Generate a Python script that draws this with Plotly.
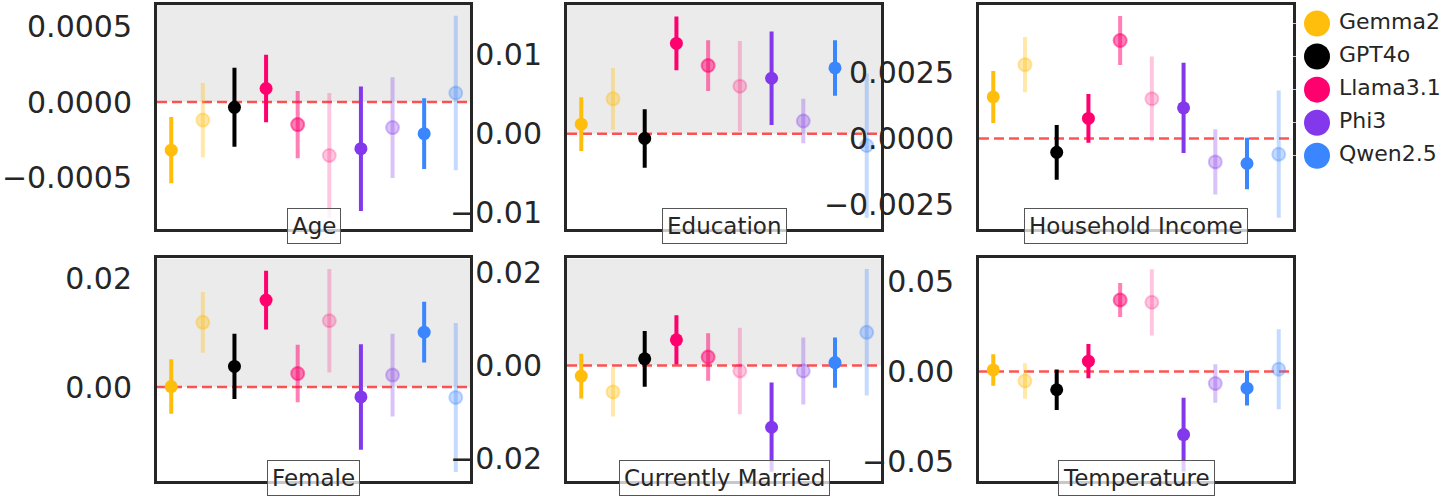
import plotly.graph_objects as go

# порядок точек внутри каждой панели
models = ['Gemma2', 'Gemma2', 'GPT4o', 'Llama3.1', 'Llama3.1', 'Llama3.1',
          'Phi3', 'Phi3', 'Qwen2.5', 'Qwen2.5']
legend_models = ['Gemma2', 'GPT4o', 'Llama3.1', 'Phi3', 'Qwen2.5']
panels = ['Age', 'Education', 'Household Income',
          'Female', 'Currently Married', 'Temperature']

# оценки и полуширина интервалов
age = [-0.00032, -0.00012, -0.000035, 0.00009, -0.00015, -0.000355, -0.00031, -0.00017, -0.00021, 0.00006]
age_err = [0.00022, 0.000247, 0.000263, 0.000225, 0.000224, 0.000415, 0.000414, 0.000335, 0.000235, 0.000513]

education = [0.0012, 0.0044, -0.0006, 0.0114, 0.0086, 0.006, 0.007, 0.0016, 0.0083, -0.0015]
education_err = [0.0034, 0.0039, 0.0037, 0.0034, 0.0032, 0.0057, 0.0059, 0.0028, 0.0035, 0.0091]

income = [0.00157, 0.00279, -0.00052, 0.00076, 0.0037, 0.0015, 0.00116, -0.00088, -0.00094, -0.00059]
income_err = [0.00098, 0.00104, 0.00103, 0.00092, 0.00092, 0.0016, 0.0017, 0.00123, 0.00097, 0.0024]

female = [0.0001, 0.0119, 0.0038, 0.016, 0.0025, 0.0122, -0.0018, 0.0022, 0.0101, -0.0019]
female_err = [0.005, 0.0056, 0.006, 0.0054, 0.0053, 0.0095, 0.0097, 0.0076, 0.0056, 0.0137]

married = [-0.0023, -0.0057, 0.0014, 0.0055, 0.0018, -0.0012, -0.0133, -0.0012, 0.0006, 0.0071]
married_err = [0.0048, 0.0053, 0.006, 0.0053, 0.0051, 0.0093, 0.0096, 0.0072, 0.0054, 0.0136]

temperature = [0.0009, -0.0052, -0.0101, 0.0058, 0.0398, 0.0385, -0.035, -0.0066, -0.0092, 0.0013]
temperature_err = [0.0087, 0.0099, 0.0112, 0.0095, 0.0094, 0.0184, 0.0205, 0.0107, 0.0096, 0.0222]

values = [age, education, income, female, married, temperature]
errors = [age_err, education_err, income_err, female_err, married_err, temperature_err]

# оси Y
y_ranges = [[-0.000842, 0.000645], [-0.012, 0.01625], [-0.0034, 0.00504],
            [-0.0173, 0.02366], [-0.0249, 0.023], [-0.0609, 0.0629]]
y_ticks = [[-0.0005, 0, 0.0005], [-0.01, 0, 0.01], [-0.0025, 0, 0.0025],
           [-0.02, 0, 0.02], [-0.02, 0, 0.02], [-0.05, 0, 0.05]]
y_formats = ['.4f', '.2f', '.4f', '.2f', '.2f', '.2f']
shaded = [True, True, False, True, True, False]

colors = {'Gemma2': (255, 190, 11), 'GPT4o': (0, 0, 0), 'Llama3.1': (255, 0, 110),
          'Phi3': (131, 56, 236), 'Qwen2.5': (58, 134, 255)}
alphas = [1, 0.35, 1, 1, 0.5, 0.22, 1, 0.3, 1, 0.3]

W, H = 1446, 500
col_px = [(157, 470), (567, 881), (979, 1293)]
row_px = [(2, 228), (258, 483)]


def rgba(c, a):
    return f'rgba({c[0]},{c[1]},{c[2]},{a})'


fig = go.Figure()
ink = '#262626'

for i, name in enumerate(panels):
    r, c = divmod(i, 3)
    ax = '' if i == 0 else str(i + 1)
    x0, x1 = col_px[c]
    y0, y1 = row_px[r]
    xd = [x0 / W, x1 / W]
    yd = [1 - y1 / H, 1 - y0 / H]

    for j in range(len(models)):
        col = colors[models[j]]
        a = alphas[j]
        fig.add_trace(go.Scatter(
            x=[j], y=[values[i][j]],
            error_y=dict(type='data', array=[errors[i][j]], color=rgba(col, a),
                         thickness=4, width=0),
            mode='markers',
            marker=dict(size=13, color=rgba(col, a),
                        line=dict(width=0 if a == 1 else 2, color=rgba(col, a))),
            xaxis='x' + ax, yaxis='y' + ax,
            showlegend=False, hoverinfo='skip'
        ))

    fig.layout['xaxis' + ax] = dict(
        domain=xd, range=[-0.45, 9.45], showticklabels=False, ticks='',
        showgrid=False, zeroline=False, showline=True, linewidth=3,
        linecolor=ink, mirror=True, anchor='y' + ax)
    fig.layout['yaxis' + ax] = dict(
        domain=yd, range=y_ranges[i], tickvals=y_ticks[i], tickformat=y_formats[i],
        ticks='', ticklabelstandoff=16, showgrid=False, zeroline=False,
        showline=True, linewidth=3, linecolor=ink, mirror=True,
        tickfont=dict(family='DejaVu Sans', size=30, color=ink),
        anchor='x' + ax)

    # серая зона выше нуля
    if shaded[i]:
        fig.add_shape(type='rect', xref='x' + ax + ' domain', yref='y' + ax,
                      x0=0, x1=1, y0=0, y1=y_ranges[i][1],
                      fillcolor='#ebebeb', line=dict(width=0), layer='below')
    # красная пунктирная линия нуля
    fig.add_shape(type='line', xref='x' + ax + ' domain', yref='y' + ax,
                  x0=0, x1=1, y0=0, y1=0,
                  line=dict(color='rgba(255,40,40,0.8)', width=2.5, dash='10px,5px'),
                  layer='below')

    # подпись панели
    fig.add_annotation(
        text=name, xref='paper', yref='paper',
        x=(xd[0] + xd[1]) / 2, y=yd[0], xanchor='center', yanchor='middle',
        yshift=3, showarrow=False,
        font=dict(family='DejaVu Sans', size=23, color=ink),
        bgcolor='rgba(255,255,255,0.75)', bordercolor='#555555',
        borderwidth=1, borderpad=4)

# легенда отдельной осью: кружки и подписи
fig.add_trace(go.Scatter(
    x=[24] * len(legend_models), y=list(range(len(legend_models))),
    mode='markers',
    marker=dict(size=26, color=[rgba(colors[m], 1) for m in legend_models]),
    xaxis='x7', yaxis='y7', showlegend=False, hoverinfo='skip', cliponaxis=False
))
fig.add_trace(go.Scatter(
    x=[46] * len(legend_models), y=list(range(len(legend_models))),
    mode='text', text=legend_models, textposition='middle right',
    textfont=dict(family='DejaVu Sans', size=22, color=ink),
    xaxis='x7', yaxis='y7', showlegend=False, hoverinfo='skip', cliponaxis=False
))
fig.layout['xaxis7'] = dict(domain=[1293 / W, 1], range=[0, 153], visible=False, anchor='y7')
fig.layout['yaxis7'] = dict(domain=[1 - 171 / H, 1 - 4 / H], range=[4.5, -0.5],
                            showticklabels=False, showgrid=False, zeroline=False,
                            ticks='inside', ticklen=3, tickcolor='#cccccc',
                            tickvals=list(range(len(legend_models))), anchor='x7')

fig.update_layout(
    width=W, height=H, autosize=False,
    margin=dict(l=0, r=0, t=0, b=0),
    plot_bgcolor='white', paper_bgcolor='white',
    font=dict(family='DejaVu Sans', color=ink),
)

# убираем отступ body, чтобы фигура легла ровно в окно
fig.write_html('out.html', config={'displayModeBar': False},
               post_script="document.body.style.margin='0';")
